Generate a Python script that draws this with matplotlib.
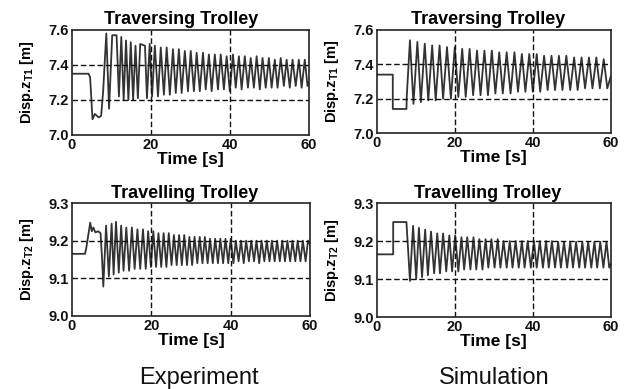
import matplotlib
matplotlib.use("Agg")
import matplotlib.pyplot as plt
import numpy as np

plt.rcParams['font.family'] = ['Liberation Sans', 'DejaVu Sans']
plt.rcParams['font.weight'] = 'bold'
plt.rcParams['mathtext.fontset'] = 'custom'
plt.rcParams['mathtext.rm'] = 'Liberation Sans:bold'
plt.rcParams['mathtext.it'] = 'Liberation Sans:bold'
plt.rcParams['mathtext.bf'] = 'Liberation Sans:bold'

# ---- Traversing trolley, experiment ----
t1e_head = [0, 4.2, 4.6, 5.2, 5.8, 6.3, 6.8, 7.4, 7.9]
z1e_head = [7.35, 7.35, 7.33, 7.09, 7.12, 7.11, 7.10, 7.11, 7.25]
t1e_peak = [8.7, 10.2, 11.3, 12.5, 13.7, 14.9, 16.1, 17.3, 18.5, 19.7,
            21.0, 22.5, 24.0, 25.6, 27.1, 28.6, 30.1, 31.6, 33.2, 34.7,
            36.2, 37.7, 39.2, 40.8, 42.3, 43.8, 45.3, 46.8, 48.3, 49.9,
            51.4, 52.9, 54.4, 55.9, 57.5, 59.0]
z1e_peak = [7.58, 7.57, 7.57, 7.56, 7.54, 7.53, 7.51, 7.52, 7.51, 7.52,
            7.51, 7.50, 7.50, 7.49, 7.49, 7.48, 7.48, 7.47, 7.47, 7.46,
            7.46, 7.46, 7.45, 7.46, 7.45, 7.45, 7.44, 7.45, 7.44, 7.44,
            7.43, 7.44, 7.43, 7.43, 7.43, 7.43]
t1e_trough = [9.4, 11.9, 13.1, 14.3, 15.5, 16.7, 19.0, 20.3,
              21.8, 23.3, 24.8, 26.3, 27.8, 29.4, 30.9, 32.4, 33.9, 35.4,
              37.0, 38.5, 40.0, 41.5, 43.0, 44.6, 46.1, 47.6, 49.1, 50.6,
              52.1, 53.7, 55.2, 56.7, 58.2, 59.7, 60.0]
z1e_trough = [7.15, 7.22, 7.20, 7.20, 7.20, 7.21, 7.21, 7.22,
              7.22, 7.23, 7.23, 7.24, 7.24, 7.25, 7.25, 7.25, 7.26, 7.25,
              7.26, 7.26, 7.25, 7.27, 7.26, 7.27, 7.27, 7.26, 7.27, 7.27,
              7.27, 7.28, 7.27, 7.28, 7.27, 7.28, 7.30]

# ---- Traversing trolley, simulation ----
t1s_head = [0, 4.1, 4.1, 7.6, 7.7]
z1s_head = [7.34, 7.34, 7.14, 7.14, 7.22]
t1s_peak = [8.5, 10.4, 12.3, 14.2, 16.1, 18.0, 20.0, 21.9, 23.8, 25.7,
            27.6, 29.5, 31.4, 33.3, 35.3, 37.2, 39.1, 41.0, 42.9, 44.8,
            46.7, 48.6, 50.6, 52.5, 54.4, 56.3, 58.2]
z1s_peak = [7.54, 7.53, 7.52, 7.51, 7.51, 7.50, 7.50, 7.49, 7.49, 7.48,
            7.48, 7.48, 7.47, 7.47, 7.47, 7.46, 7.46, 7.46, 7.45, 7.45,
            7.45, 7.45, 7.44, 7.44, 7.44, 7.44, 7.43]
t1s_trough = [9.4, 11.3, 13.2, 15.1, 17.0, 19.0, 20.9, 22.8, 24.7, 26.6,
              28.5, 30.4, 32.3, 34.3, 36.2, 38.1, 40.0, 41.9, 43.8, 45.7,
              47.6, 49.6, 51.5, 53.4, 55.3, 57.2, 59.1, 60.0]
z1s_trough = [7.17, 7.18, 7.19, 7.19, 7.20, 7.20, 7.21, 7.21, 7.22, 7.22,
              7.22, 7.23, 7.23, 7.23, 7.24, 7.24, 7.24, 7.24, 7.25, 7.25,
              7.25, 7.25, 7.25, 7.26, 7.26, 7.26, 7.26, 7.33]

# ---- Travelling trolley, experiment ----
t2e_head = [0, 3.3, 3.6, 4.6, 5.0, 5.4, 5.9, 6.6, 7.2, 7.6]
z2e_head = [9.165, 9.165, 9.18, 9.248, 9.225, 9.235, 9.222, 9.225, 9.22, 9.15]
t2e_peak = [8.6, 10.0, 11.1, 12.4, 13.7, 15.1, 16.5, 17.9, 19.2, 20.5,
            21.8, 23.1, 24.4, 25.7, 27.0, 28.3, 29.6, 30.9, 32.2, 33.5,
            34.8, 36.1, 37.4, 38.7, 40.0, 41.3, 42.6, 43.9, 45.2, 46.5,
            47.8, 49.1, 50.4, 51.7, 53.0, 54.3, 55.6, 56.9, 58.2, 59.5]
z2e_peak = [9.24, 9.245, 9.25, 9.24, 9.235, 9.235, 9.23, 9.23, 9.225, 9.225,
            9.22, 9.22, 9.22, 9.215, 9.215, 9.215, 9.21, 9.21, 9.21, 9.21,
            9.205, 9.205, 9.205, 9.205, 9.205, 9.20, 9.20, 9.20, 9.20, 9.20,
            9.20, 9.20, 9.20, 9.20, 9.20, 9.20, 9.20, 9.20, 9.20, 9.20]
t2e_trough = [7.9, 9.3, 10.5, 11.8, 13.0, 14.4, 15.8, 17.2, 18.6, 19.9,
              21.2, 22.5, 23.8, 25.1, 26.4, 27.7, 29.0, 30.3, 31.6, 32.9,
              34.2, 35.5, 36.8, 38.1, 39.4, 40.7, 42.0, 43.3, 44.6, 45.9,
              47.2, 48.5, 49.8, 51.1, 52.4, 53.7, 55.0, 56.3, 57.6, 58.9, 60.0]
z2e_trough = [9.078, 9.105, 9.11, 9.115, 9.12, 9.12, 9.125, 9.125, 9.125, 9.13,
              9.13, 9.13, 9.13, 9.135, 9.135, 9.135, 9.135, 9.135, 9.14, 9.14,
              9.14, 9.14, 9.14, 9.14, 9.14, 9.14, 9.145, 9.14, 9.145, 9.145,
              9.14, 9.145, 9.145, 9.145, 9.145, 9.145, 9.145, 9.145, 9.145, 9.145, 9.19]

# ---- Travelling trolley, simulation ----
t2s_head = [0, 4.2, 4.2, 7.6]
z2s_head = [9.165, 9.165, 9.25, 9.25]
t2s_peak = [9.3, 10.8, 12.4, 13.9, 15.5, 17.0, 18.6, 20.1, 21.7, 23.2,
            24.8, 26.3, 27.9, 29.4, 31.0, 32.5, 34.1, 35.6, 37.2, 38.7,
            40.3, 41.8, 43.4, 44.9, 46.5, 48.0, 49.6, 51.1, 52.7, 54.2,
            55.8, 57.3, 58.9]
z2s_peak = [9.24, 9.235, 9.23, 9.225, 9.22, 9.22, 9.215, 9.215, 9.21, 9.21,
            9.21, 9.205, 9.205, 9.205, 9.205, 9.20, 9.20, 9.20, 9.20, 9.20,
            9.20, 9.20, 9.20, 9.20, 9.198, 9.198, 9.198, 9.198, 9.198, 9.198,
            9.198, 9.198, 9.198]
t2s_trough = [8.5, 10.1, 11.6, 13.1, 14.7, 16.2, 17.8, 19.3, 20.9, 22.4,
              24.0, 25.5, 27.1, 28.6, 30.2, 31.7, 33.3, 34.8, 36.4, 37.9,
              39.5, 41.0, 42.6, 44.1, 45.7, 47.2, 48.8, 50.3, 51.9, 53.4,
              55.0, 56.5, 58.1, 59.6, 60.0]
z2s_trough = [9.095, 9.10, 9.105, 9.11, 9.115, 9.115, 9.12, 9.12, 9.12, 9.125,
              9.125, 9.125, 9.125, 9.13, 9.13, 9.13, 9.13, 9.13, 9.13, 9.13,
              9.13, 9.13, 9.13, 9.13, 9.13, 9.13, 9.13, 9.13, 9.13, 9.13,
              9.13, 9.13, 9.13, 9.13, 9.14]

time_ticks = [0, 20, 40, 60]
z1_ticks = [7.0, 7.2, 7.4, 7.6]
z2_ticks = [9.0, 9.1, 9.2, 9.3]


def merge(head_t, head_z, pk_t, pk_z, tr_t, tr_z):
    t = np.concatenate([head_t, pk_t, tr_t])
    z = np.concatenate([head_z, pk_z, tr_z])
    order = np.argsort(t, kind="stable")
    return t[order], z[order]


def panel(ax, t, z, title, ylabel, yticks, title_x):
    ax.plot(t, z, color="#333333", lw=1.3)
    ax.set_xlim(0, 60)
    ax.set_ylim(yticks[0], yticks[-1])
    ax.set_xticks(time_ticks)
    ax.set_yticks(yticks)
    ax.set_yticklabels(["%.1f" % v for v in yticks])
    ax.tick_params(length=0, labelsize=10.5, pad=2, colors="#111111")
    for x in time_ticks[1:-1]:
        ax.axvline(x, color="#111111", lw=1.0, ls=(0, (4, 2)))
    for y in yticks[1:-1]:
        ax.axhline(y, color="#111111", lw=1.0, ls=(0, (4, 2)))
    for s in ax.spines.values():
        s.set_linewidth(1.2)
        s.set_color("#222222")
    ax.set_title(title, fontsize=13, fontweight="bold", pad=4, x=title_x)
    ax.set_xlabel("Time [s]", fontsize=12.5, fontweight="bold", labelpad=0)
    ax.set_ylabel(ylabel, fontsize=10.5, fontweight="bold", labelpad=9)


fig = plt.figure(figsize=(6.28, 3.89), dpi=100)
ax_tl = fig.add_axes([0.1146, 0.653, 0.377, 0.270])
ax_tr = fig.add_axes([0.600, 0.658, 0.3726, 0.265])
ax_bl = fig.add_axes([0.1146, 0.188, 0.379, 0.290])
ax_br = fig.add_axes([0.600, 0.185, 0.3726, 0.293])

lab1 = r"Disp.z$_{\mathrm{T1}}$ [m]"
lab2 = r"Disp.z$_{\mathrm{T2}}$ [m]"
panel(ax_tl, *merge(t1e_head, z1e_head, t1e_peak, z1e_peak, t1e_trough, z1e_trough),
      "Traversing Trolley", lab1, z1_ticks, 0.46)
panel(ax_tr, *merge(t1s_head, z1s_head, t1s_peak, z1s_peak, t1s_trough, z1s_trough),
      "Traversing Trolley", lab1, z1_ticks, 0.475)
panel(ax_bl, *merge(t2e_head, z2e_head, t2e_peak, z2e_peak, t2e_trough, z2e_trough),
      "Travelling Trolley", lab2, z2_ticks, 0.475)
panel(ax_br, *merge(t2s_head, z2s_head, t2s_peak, z2s_peak, t2s_trough, z2s_trough),
      "Travelling Trolley", lab2, z2_ticks, 0.475)

fig.text(199 / 628, 1 - 378 / 389, "Experiment", ha="center", va="center",
         fontsize=17, fontweight="normal", color="#111111")
fig.text(494 / 628, 1 - 378 / 389, "Simulation", ha="center", va="center",
         fontsize=17, fontweight="normal", color="#111111")

fig.savefig("out.png", dpi=100)
